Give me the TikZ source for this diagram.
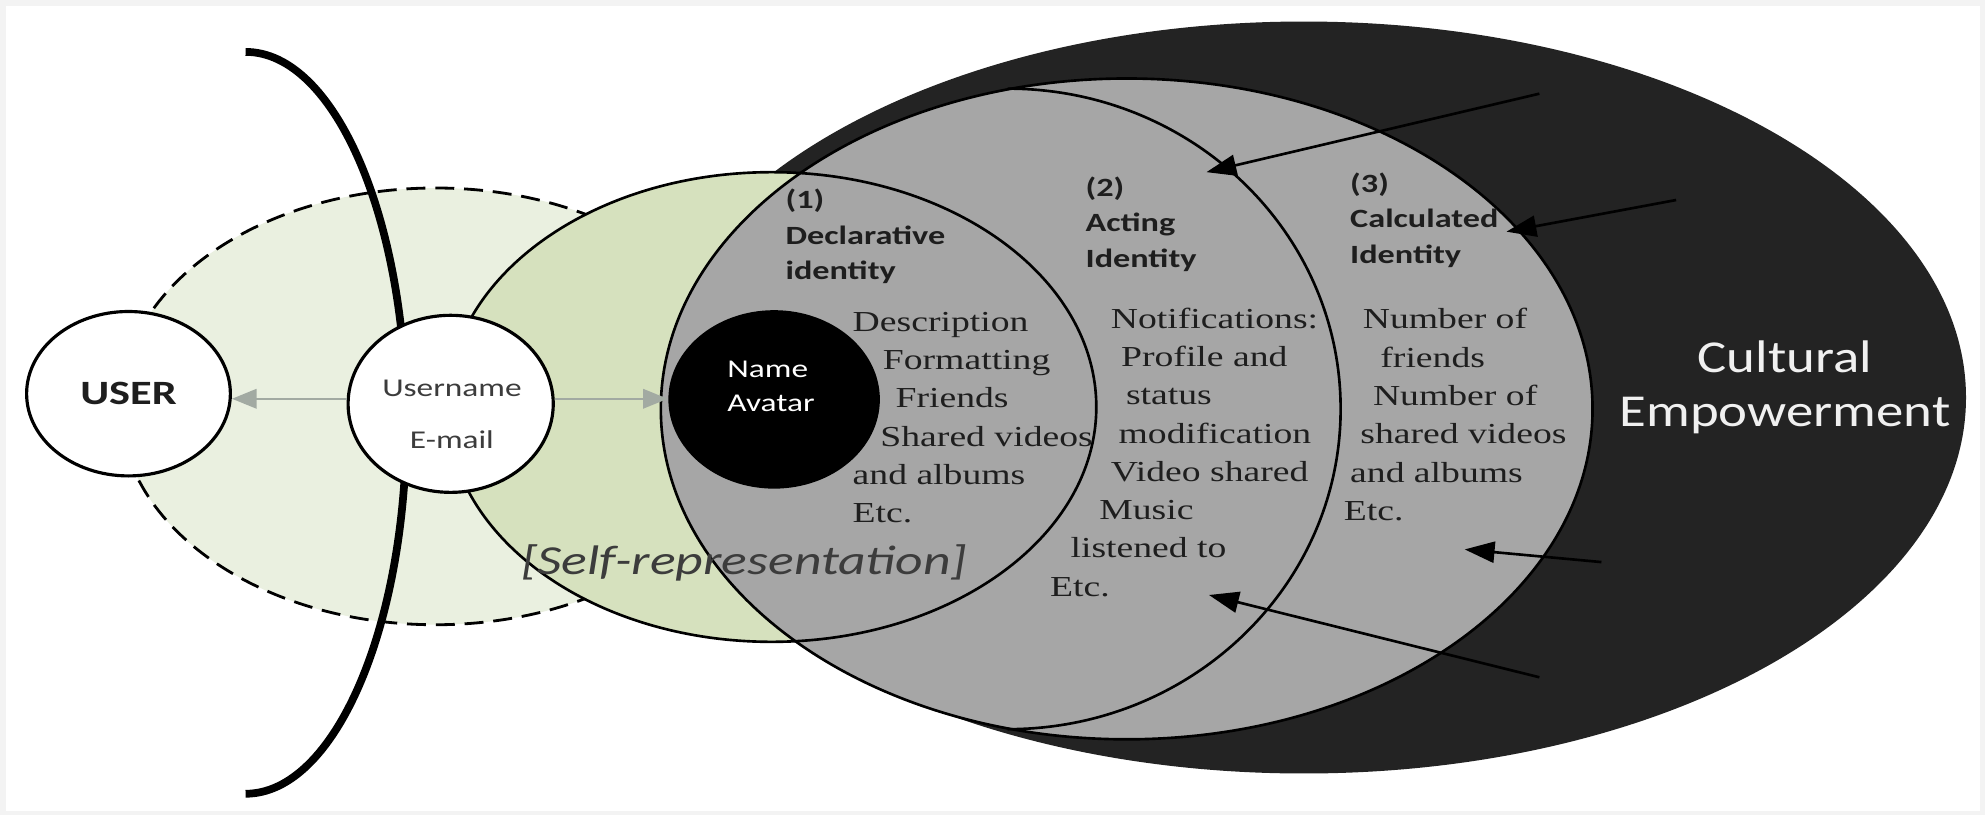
\documentclass[tikz,border=0pt]{standalone}
\usepackage{fontspec}
\setmainfont{Liberation Serif}
\newfontfamily\sansw[FakeStretch=1.3]{Carlito}
\newfontfamily\sansc[FakeStretch=1.2]{Carlito}
\newfontfamily\serifw[FakeStretch=1.3]{Liberation Serif}
\usetikzlibrary{arrows.meta,shapes.geometric}
\definecolor{framegray}{RGB}{243,243,243}
\definecolor{dashgreen}{RGB}{234,240,224}
\definecolor{selfgreen}{RGB}{214,225,190}
\definecolor{idgray}{RGB}{166,166,166}
\definecolor{culture}{RGB}{35,35,35}
\definecolor{linkgray}{RGB}{162,170,162}
\definecolor{ink}{RGB}{30,30,30}
\definecolor{softink}{RGB}{60,60,60}
\definecolor{cultink}{RGB}{240,240,240}
\begin{document}
\begin{tikzpicture}[x=0.0126594cm,y=-0.0126594cm,
  outl/.style={draw=black,line width=0.75pt},
  bubble/.style={ellipse,draw=black,line width=0.9pt,fill=white,inner sep=0pt},
  linkarrow/.style={draw=linkgray,line width=0.7pt,-{Triangle[length=7pt,width=5.5pt]}},
  pointer/.style={draw=black,line width=0.75pt,-{Triangle[length=8.5pt,width=6pt]}},
  idlabel/.style={anchor=base west,align=left,inner sep=0pt,text=ink,font=\sansw\bfseries\fontsize{7.5}{10.1}\selectfont},
  idtext/.style={anchor=base west,align=left,inner sep=0pt,text=ink,font=\serifw\fontsize{8.25}{10.9}\selectfont},
]
\useasboundingbox (0,0) rectangle (1568,644);
\fill[framegray] (0,0) rectangle (1568,644);
\fill[white] (5,5) rectangle (1564,641);

% identity-user zone (dashed)
\filldraw[fill=dashgreen,draw=black,line width=0.8pt,dash pattern=on 5.4pt off 2.8pt] (344,321) ellipse [x radius=249,y radius=172.5];
% screen boundary arc
\draw[line width=2.2pt] (194,41) arc[start angle=-90,end angle=90,x radius=127,y radius=293];
% cultural empowerment
\fill[culture] (1030,314) ellipse [x radius=523,y radius=297];
% self-representation fill
\fill[selfgreen] (609.5,321.5) ellipse [x radius=256.5,y radius=185.5];
% calculated identity
\filldraw[fill=idgray,outl] (890,323) ellipse [x radius=368,y radius=261];
% declarative identity outline
\draw[outl] (609.5,321.5) ellipse [x radius=256.5,y radius=185.5];
% acting identity outline
\draw[outl] (796,70) arc[start angle=-90,end angle=90,x radius=263,y radius=253];

% name / avatar
\node[ellipse,fill=black,inner sep=0pt,minimum width=60.2pt,minimum height=50.8pt] (na) at (611.5,315.5) {};
\node[anchor=base west,align=left,inner sep=0pt,text=white,font=\sansw\fontsize{7.3}{9.7}\selectfont] (natext) at (574,325) {Name\\Avatar};

% user and username
\node[bubble,minimum width=58pt,minimum height=46.8pt,text=ink,font=\sansw\bfseries\fontsize{9.7}{11}\selectfont] (user) at (101.5,311) {USER};
\node[bubble,minimum width=58.4pt,minimum height=50.4pt] (un) at (356,319) {};
\node[anchor=base,align=center,inner sep=0pt,text=softink,font=\sansw\fontsize{7.3}{14.6}\selectfont] (untext) at (357,354) {Username\\E-mail};

\coordinate (arrowy) at (0,315);
\draw[linkarrow] (un.west |- arrowy) -- (user.east |- arrowy);
\draw[linkarrow] (un.east |- arrowy) -- (na.west |- arrowy);

% identity labels (anchored at the last line's baseline)
\node[idlabel] (lab1) at (620,221) {(1)\\Declarative\\identity};
\node[idlabel] (lab2) at (857,211) {(2)\\Acting\\Identity};
\node[idlabel] (lab3) at (1066,208) {(3)\\Calculated\\Identity};

% identity contents
\node[idtext] (txt1) at (673,413) {Description\\\hspace*{8.6pt}Formatting\\\hspace*{12.2pt}Friends\\\hspace*{7.9pt}Shared videos\\and albums\\Etc.};
\node[idtext] (txt2) at (829,471) {\hspace*{17.3pt}Notifications:\\\hspace*{20.2pt}Profile and\\\hspace*{21.6pt}status\\\hspace*{19.5pt}modification\\\hspace*{17.3pt}Video shared\\\hspace*{14pt}Music\\\hspace*{5.8pt}listened to\\Etc.};
\node[idtext] (txt3) at (1061,411) {\hspace*{5.4pt}Number of\\\hspace*{10.4pt}friends\\\hspace*{8.3pt}Number of\\\hspace*{4.7pt}shared videos\\\hspace*{1.8pt}and albums\\Etc.};

\node[anchor=base west,inner sep=0pt,text=softink,font=\sansw\itshape\fontsize{11.75}{14}\selectfont] (selfrep) at (411,454) {[Self-representation]};

\node[anchor=base,align=center,inner sep=0pt,text=cultink,font=\sansc\fontsize{13}{15.5}\selectfont] (cult) at (1410,337) {Cultural\\Empowerment};

% pointers
\coordinate (p1s) at (1216,74);  \coordinate (p1e) at (953,136);
\coordinate (p2s) at (1324,158); \coordinate (p2e) at (1190,183);
\coordinate (p3s) at (1265,444); \coordinate (p3e) at (1157,434);
\coordinate (p4s) at (1216,535); \coordinate (p4e) at (955,470);
\draw[pointer] (p1s) -- (p1e);
\draw[pointer] (p2s) -- (p2e);
\draw[pointer] (p3s) -- (p3e);
\draw[pointer] (p4s) -- (p4e);
\end{tikzpicture}
\end{document}
